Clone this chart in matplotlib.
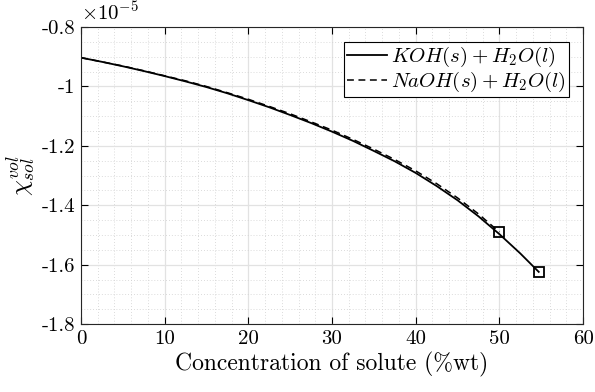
import matplotlib
matplotlib.use('Agg')
import matplotlib.pyplot as plt
from matplotlib.ticker import MultipleLocator, FuncFormatter

plt.rcParams['font.family'] = ['cmr10', 'DejaVu Serif']
plt.rcParams['mathtext.fontset'] = 'cm'
plt.rcParams['axes.unicode_minus'] = False

# values in units of 1e-5
koh_x = [0, 2.5, 5, 7.5, 10, 12.5, 15, 17.5, 20, 22.5, 25, 27.5, 30, 32.5, 35,
         37.5, 40, 42.5, 45, 47.5, 50, 52.5, 54.7]
koh_y = [-0.903, -0.917, -0.932, -0.948, -0.965, -0.983, -1.002, -1.023, -1.046,
         -1.070, -1.096, -1.123, -1.152, -1.183, -1.217, -1.252, -1.291, -1.335,
         -1.383, -1.437, -1.497, -1.562, -1.624]
naoh_x = [0, 2.5, 5, 7.5, 10, 12.5, 15, 17.5, 20, 22.5, 25, 27.5, 30, 32.5, 35,
          37.5, 40, 42.5, 45, 47.5, 50]
naoh_y = [-0.903, -0.917, -0.931, -0.947, -0.964, -0.981, -1.000, -1.021, -1.043,
          -1.067, -1.092, -1.119, -1.147, -1.178, -1.211, -1.246, -1.284, -1.327,
          -1.375, -1.429, -1.490]

fig = plt.figure(figsize=(5.95, 3.92), dpi=100)
ax = fig.add_axes([0.136, 0.173, 0.844, 0.758])

ax.plot(koh_x, koh_y, '-', color='black', lw=1.3, label=r'$KOH(s)+H_2O(l)$')
ax.plot(naoh_x, naoh_y, color='black', lw=1.1, ls=(0, (4.5, 3)), label=r'$NaOH(s)+H_2O(l)$')
ax.plot(koh_x[-1], koh_y[-1], 's', mfc='none', mec='black', ms=6.5, mew=1.3)
ax.plot(naoh_x[-1], naoh_y[-1], 's', mfc='none', mec='black', ms=6.5, mew=1.3)

ax.set_xlim(0, 60)
ax.set_ylim(-1.8, -0.8)
ax.xaxis.set_major_locator(MultipleLocator(10))
ax.xaxis.set_minor_locator(MultipleLocator(2))
ax.yaxis.set_major_locator(MultipleLocator(0.2))
ax.yaxis.set_minor_locator(MultipleLocator(0.05))
ax.yaxis.set_major_formatter(FuncFormatter(lambda v, p: ('%g' % round(v, 2))))

ax.grid(which='major', color='#e2e2e2', lw=0.9, ls='-')
ax.grid(which='minor', color='#cfcfcf', lw=0.6, ls=(0, (1, 2.5)))
ax.set_axisbelow(True)
ax.tick_params(which='both', direction='in', top=True, right=True, labelsize=15)
ax.tick_params(which='major', length=5, pad=4)
ax.tick_params(which='minor', length=0)
for s in ax.spines.values():
    s.set_color('#262626')
    s.set_linewidth(0.8)

ax.set_xlabel('Concentration of solute (%wt)', fontsize=17, labelpad=3)
ax.set_ylabel(r'$\chi_{sol}^{vol}$', fontsize=18, labelpad=2)
ax.text(0.0, 1.01, r'$\times10^{-5}$', transform=ax.transAxes, fontsize=15, ha='left', va='bottom')

leg = ax.legend(loc='upper right', fontsize=15, fancybox=False, framealpha=1,
                edgecolor='black', handlelength=1.9, handletextpad=0.2,
                borderpad=0.15, labelspacing=0.05, borderaxespad=0.7)
leg.get_frame().set_linewidth(0.8)

fig.savefig('out.png', dpi=100)
